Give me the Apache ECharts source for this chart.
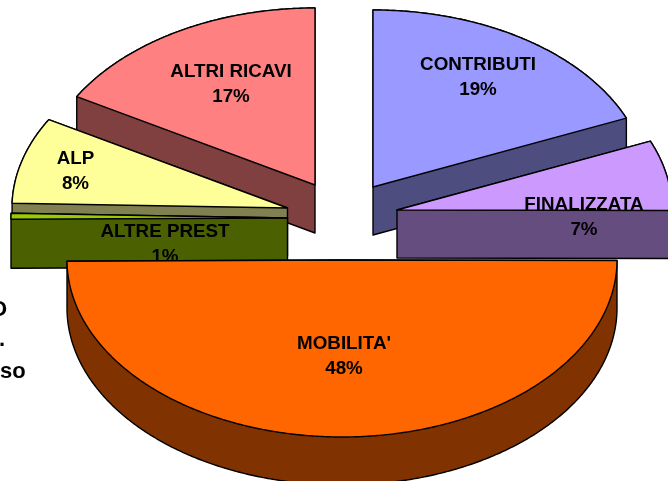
<!DOCTYPE html>
<html><head><meta charset="utf-8">
<style>html,body{margin:0;padding:0;background:#fff;overflow:hidden}#c{width:668px;height:481px}</style>
<script src="https://cdn.jsdelivr.net/npm/echarts@6/dist/echarts.min.js"></script>
</head><body><div id="c"></div>
<script>
// data
var categories = ['CONTRIBUTI', 'FINALIZZATA', "MOBILITA'", 'ALTRE PREST', 'ALP', 'ALTRI RICAVI'];
var values = [18.7, 6.9, 48.4, 0.6, 8.0, 17.4];

// view geometry of the exploded 3D pie (no data here)
var topColors  = ['#9999FF', '#CC99FF', '#FF6600', '#99CC00', '#FFFF99', '#FF8080'];
var sideColors = ['#4D4D80', '#664D80', '#803300', '#4B6000', '#808050', '#804040'];
var apexX  = [373, 397, 342, 287.5, 287.5, 315];
var apexY  = [187, 210, 260, 218, 208, 185];
var radiusX = [275, 275, 275, 276.5, 275.5, 275];
var depths = [48, 48, 48, 49, 48, 48];
var layer  = [2, 3, 7, 5, 4, 1];
var perspectiveShift = [0, -0.2, -2, 3.2, 3, 2.6, 0]; // degrees at each slice boundary
var labelX = [478, 584, 344, 165, 75.5, 231];
var labelY = [77.5, 217, 356.5, 244, 171, 84.5];
var labelLayer = [20, 20, 20, 6, 20, 20];
var RY = 177, FONT = 'bold 18.8px "Liberation Sans", Arial, sans-serif';

var total = values.reduce(function (a, b) { return a + b; }, 0);
var boundaries = [0];
values.forEach(function (v, i) {
  boundaries.push(boundaries[i] + v);
});
function boundaryAngle(i) { return boundaries[i] / total * 360 + perspectiveShift[i]; }

function hull(pts) {
  var p = pts.slice().sort(function (a, b) { return a[0] - b[0] || a[1] - b[1]; });
  function cross(o, a, b) { return (a[0]-o[0])*(b[1]-o[1]) - (a[1]-o[1])*(b[0]-o[0]); }
  var lo = [], up = [], i;
  for (i = 0; i < p.length; i++) {
    while (lo.length > 1 && cross(lo[lo.length-2], lo[lo.length-1], p[i]) <= 0) lo.pop();
    lo.push(p[i]);
  }
  for (i = p.length - 1; i >= 0; i--) {
    while (up.length > 1 && cross(up[up.length-2], up[up.length-1], p[i]) <= 0) up.pop();
    up.push(p[i]);
  }
  return lo.slice(0, -1).concat(up.slice(0, -1));
}

function renderItem(params, api) {
  var i = api.value(0);
  var a0 = boundaryAngle(i), a1 = boundaryAngle(i + 1);
  var pct = Math.round(api.value(1) / total * 100) + '%';
  var cx = apexX[i], cy = apexY[i], d = depths[i];
  var face = [[cx, cy]];
  var n = Math.max(4, Math.ceil((a1 - a0) * 2));
  for (var k = 0; k <= n; k++) {
    var t = (a0 + (a1 - a0) * k / n) * Math.PI / 180;
    face.push([cx + radiusX[i] * Math.sin(t), cy - RY * Math.cos(t)]);
  }
  var body = face.concat(face.map(function (p) { return [p[0], p[1] + d]; }));
  var stroke = { stroke: '#000', lineWidth: 1.4, lineJoin: 'round' };
  return {
    type: 'group',
    children: [
      { type: 'polygon', z2: layer[i] * 2, shape: { points: hull(body) },
        style: Object.assign({ fill: sideColors[i] }, stroke) },
      { type: 'polygon', z2: layer[i] * 2 + 1, shape: { points: face },
        style: Object.assign({ fill: topColors[i] }, stroke) },
      { type: 'text', z2: labelLayer[i] * 2 + 1, x: labelX[i], y: labelY[i],
        style: { text: categories[i] + '\n' + pct, font: FONT, fill: '#000', align: 'center',
                 verticalAlign: 'middle', lineHeight: 25 } }
    ]
  };
}

var chart = echarts.init(document.getElementById('c'), null, { renderer: 'canvas' });
var hiddenFont = 'bold 22px "Liberation Sans", Arial, sans-serif';
chart.setOption({
  animation: false,
  backgroundColor: '#fff',
  graphic: [
    { type: 'text', x: -10, y: 310, style: { text: 'O', font: hiddenFont, fill: '#000', verticalAlign: 'middle' } },
    { type: 'text', x: -1, y: 340, style: { text: '.', font: hiddenFont, fill: '#000', verticalAlign: 'middle' } },
    { type: 'text', x: 0, y: 372, style: { text: 'so', font: hiddenFont, fill: '#000', verticalAlign: 'middle' } }
  ],
  series: [{
    type: 'custom',
    coordinateSystem: 'none',
    silent: true,
    clip: false,
    renderItem: renderItem,
    data: values.map(function (v, i) { return [i, v]; })
  }]
});
</script></body></html>
